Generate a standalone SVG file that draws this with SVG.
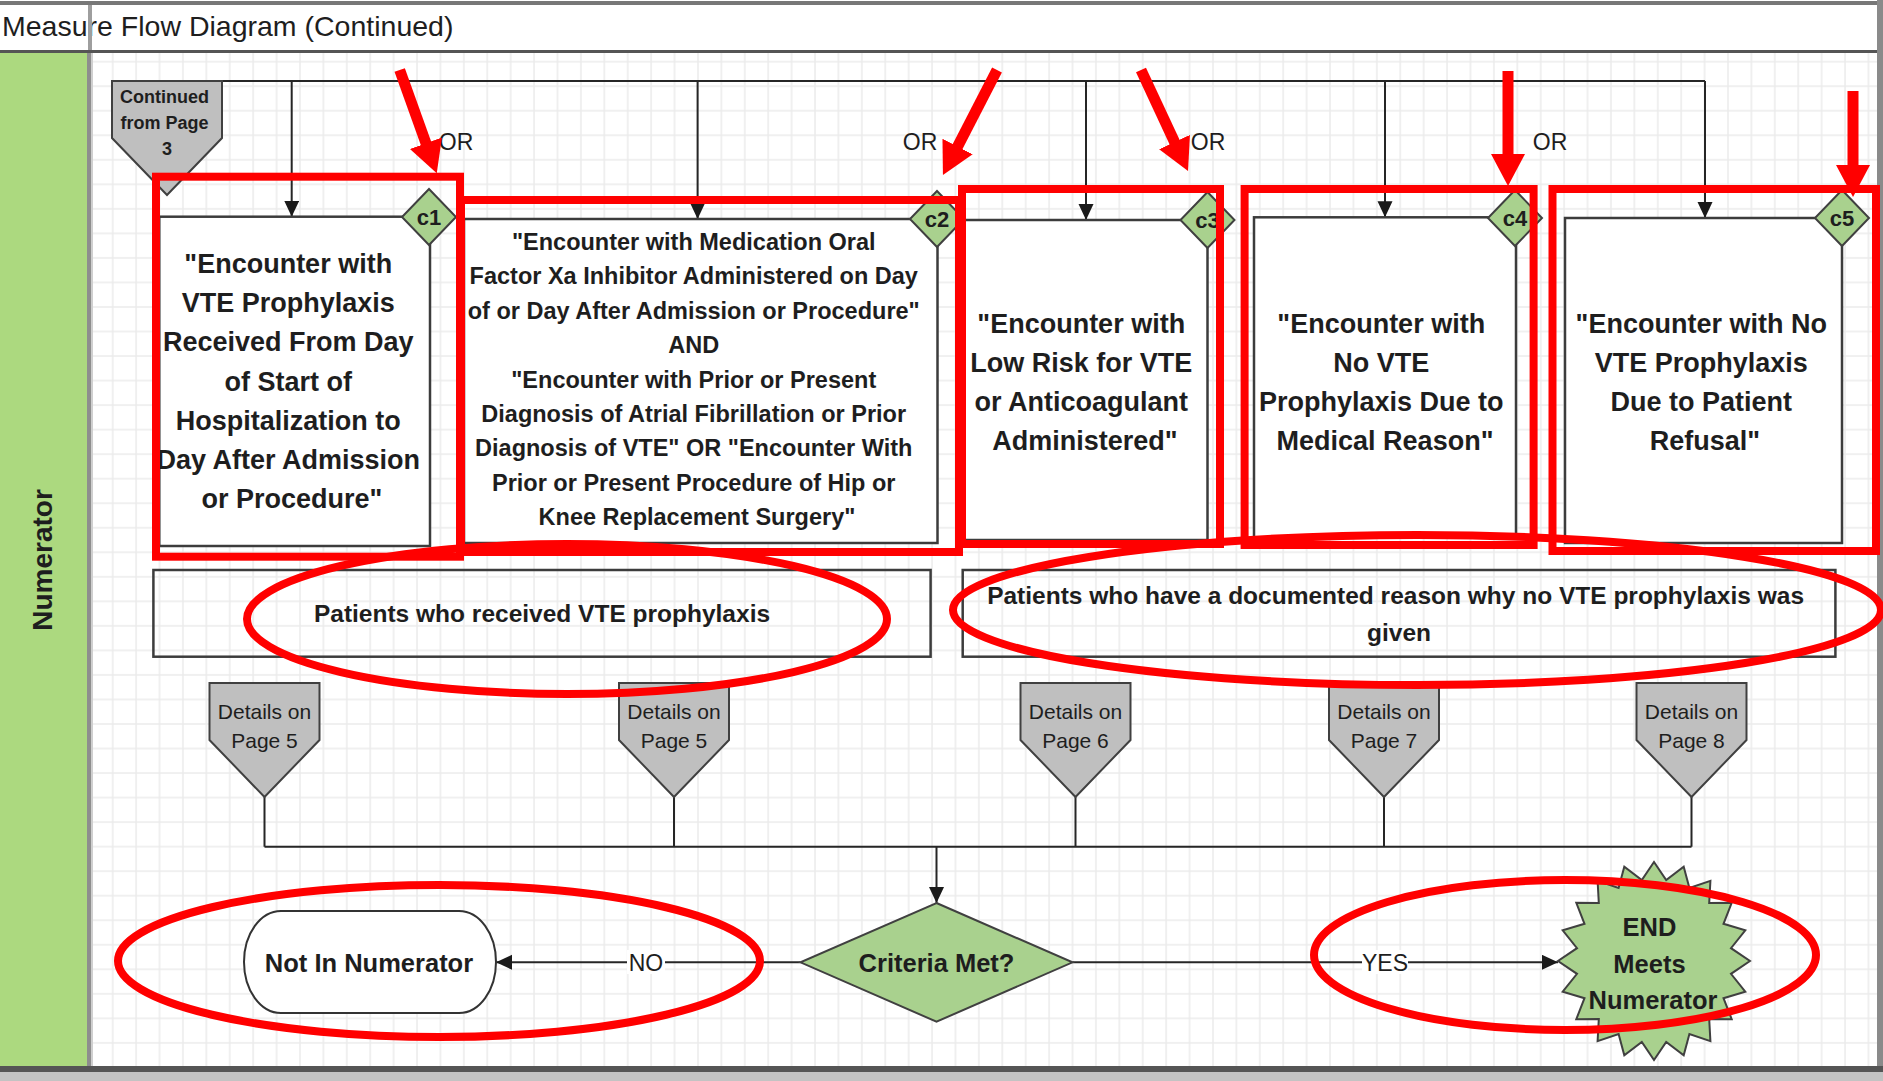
<svg xmlns="http://www.w3.org/2000/svg" width="1883" height="1081" viewBox="0 0 1883 1081">
  <style>
    .t { font-family: "Liberation Sans", Arial, sans-serif; fill: #1e1e1e; }
    .b { font-weight: bold; }
    .box { fill: #ffffff; stroke: #3c3c3c; stroke-width: 2.5; }
    .sum { fill: none; stroke: #3c3c3c; stroke-width: 2.5; }
    .tag { fill: #a9d18e; stroke: #404040; stroke-width: 2; }
    .off { fill: #bfbfbf; stroke: #404040; stroke-width: 2; }
    .wire { fill: none; stroke: #262626; stroke-width: 2; }
    .mark { fill: none; stroke: #ff0000; stroke-width: 8; }
    .markarrow { fill: none; stroke: #ff0000; stroke-width: 11; }
  </style>
  <defs>
    <pattern id="grid" patternUnits="userSpaceOnUse" x="88.3" y="11.64" width="23.41" height="24.53">
      <path d="M1,0 V24.53 M0,1 H23.41" stroke="#ebebeb" stroke-width="1.5" fill="none"/>
    </pattern>
    <marker id="arr" markerUnits="userSpaceOnUse" markerWidth="17" markerHeight="16" refX="16" refY="7.5" orient="auto">
      <path d="M0,0 L16,7.5 L0,15 Z" fill="#1a1a1a"/>
    </marker>
    <marker id="redarr" markerUnits="userSpaceOnUse" markerWidth="34" markerHeight="36" refX="12" refY="18" orient="auto">
      <path d="M0,1 L32,18 L0,35 Z" fill="#ff0000"/>
    </marker>
  </defs>

  <!-- page frame -->
  <rect x="0" y="0" width="1883" height="1081" fill="#ffffff"/>
  <rect x="89" y="53" width="1789" height="1013" fill="#ffffff"/>
  <rect x="89" y="53" width="1789" height="1013" fill="url(#grid)"/>

  <!-- swimlane header -->
  <g id="lane-numerator">
    <rect x="0" y="53" width="87" height="1013" fill="#acd97f"/>
    <rect x="87" y="53" width="4" height="1013" fill="#8e8e8e"/>
    <rect x="91" y="53" width="2" height="1013" fill="#cfcfcf"/>
    <text class="t b" font-size="28" text-anchor="middle" transform="translate(52,560) rotate(-90)">Numerator</text>
  </g>

  <!-- title row -->
  <g id="title">
    <rect x="0" y="3" width="1878" height="48" fill="#ffffff"/>
    <text class="t" font-size="28.5" x="2" y="36">Measure Flow Diagram (Continued)</text>
    <rect x="88" y="3" width="4" height="50" fill="#9e9e9e"/>
    <rect x="0" y="1" width="1883" height="4" fill="#777777"/>
    <rect x="0" y="50" width="1878" height="3" fill="#555555"/>
  </g>

  <!-- outer border -->
  <rect x="1877" y="0" width="6" height="1081" fill="#8a8a8a"/>
  <rect x="0" y="1066" width="1883" height="6" fill="#555555"/>
  <rect x="0" y="1072" width="1883" height="9" fill="#c3c3c3"/>

  <!-- connectors -->
  <g id="connectors">
    <path class="wire" d="M222,81 H1705"/>
    <path class="wire" d="M291.7,81 V216.7" marker-end="url(#arr)"/>
    <path class="wire" d="M697.6,81 V219" marker-end="url(#arr)"/>
    <path class="wire" d="M1086,81 V220" marker-end="url(#arr)"/>
    <path class="wire" d="M1385,81 V217.3" marker-end="url(#arr)"/>
    <path class="wire" d="M1705,81 V218" marker-end="url(#arr)"/>

    <path class="wire" d="M264.5,797 V846.7 M674,797 V846.7 M1075.5,797 V846.7 M1384,797 V846.7 M1691.5,797 V846.7 M264.5,846.7 H1691.5"/>
    <path class="wire" d="M936.5,846.7 V903" marker-end="url(#arr)"/>

    <path class="wire" d="M800.5,962.3 H496" marker-end="url(#arr)"/>
    <rect x="627" y="950" width="38" height="24" fill="#ffffff"/>
    <text class="t" font-size="23" text-anchor="middle" x="646" y="970.5">NO</text>

    <path class="wire" d="M1072.5,962.3 H1558" marker-end="url(#arr)"/>
    <rect x="1362" y="950" width="46" height="24" fill="#ffffff"/>
    <text class="t" font-size="23" text-anchor="middle" x="1385" y="970.5">YES</text>

    <text class="t" font-size="23" text-anchor="middle" x="456" y="150">OR</text>
    <text class="t" font-size="23" text-anchor="middle" x="920" y="150">OR</text>
    <text class="t" font-size="23" text-anchor="middle" x="1208" y="150">OR</text>
    <text class="t" font-size="23" text-anchor="middle" x="1550" y="150">OR</text>
  </g>

  <!-- off-page connector in -->
  <g id="continued-from-page-3">
    <path class="off" d="M112,81 H222 V138 L167,195 L112,138 Z"/>
    <text class="t b" font-size="18" text-anchor="middle" fill="#333333">
      <tspan x="167" y="103">Continued</tspan>
      <tspan x="167" dy="26">from Page</tspan>
      <tspan x="167" dy="26">3</tspan>
    </text>
  </g>

  <!-- criteria boxes -->
  <g id="c1-box">
    <rect class="box" x="159.3" y="216.7" width="270.7" height="329.3"/>
    <text class="t b" font-size="27" text-anchor="middle">
      <tspan x="292" y="273">"Encounter with</tspan>
      <tspan x="292" dy="39.2">VTE Prophylaxis</tspan>
      <tspan x="292" dy="39.2">Received From Day</tspan>
      <tspan x="292" dy="39.2">of Start of</tspan>
      <tspan x="292" dy="39.2">Hospitalization to</tspan>
      <tspan x="292" dy="39.2">Day After Admission</tspan>
      <tspan x="292" dy="39.2">or Procedure"</tspan>
    </text>
    <path class="tag" d="M429,189 L456,217 L429,245 L402,217 Z"/>
    <text class="t b" font-size="22" text-anchor="middle" x="429" y="225">c1</text>
  </g>

  <g id="c2-box">
    <rect class="box" x="464" y="219" width="473.5" height="324"/>
    <text class="t b" font-size="23.5" text-anchor="middle">
      <tspan x="697" y="250">"Encounter with Medication Oral</tspan>
      <tspan x="697" dy="34.4">Factor Xa Inhibitor Administered on Day</tspan>
      <tspan x="697" dy="34.4">of or Day After Admission or Procedure"</tspan>
      <tspan x="697" dy="34.4">AND</tspan>
      <tspan x="697" dy="34.4">"Encounter with Prior or Present</tspan>
      <tspan x="697" dy="34.4">Diagnosis of Atrial Fibrillation or Prior</tspan>
      <tspan x="697" dy="34.4">Diagnosis of VTE" OR "Encounter With</tspan>
      <tspan x="697" dy="34.4">Prior or Present Procedure of Hip or</tspan>
      <tspan x="697" dy="34.4">Knee Replacement Surgery"</tspan>
    </text>
    <path class="tag" d="M937,191 L964,219 L937,247 L910,219 Z"/>
    <text class="t b" font-size="22" text-anchor="middle" x="937" y="227">c2</text>
  </g>

  <g id="c3-box">
    <rect class="box" x="964" y="220" width="243.5" height="320"/>
    <text class="t b" font-size="27" text-anchor="middle">
      <tspan x="1085" y="332.5">"Encounter with</tspan>
      <tspan x="1085" dy="39">Low Risk for VTE</tspan>
      <tspan x="1085" dy="39">or Anticoagulant</tspan>
      <tspan x="1085" dy="39">Administered"</tspan>
    </text>
    <path class="tag" d="M1207.5,192 L1234.5,220 L1207.5,248 L1180.5,220 Z"/>
    <text class="t b" font-size="22" text-anchor="middle" x="1207.5" y="228">c3</text>
  </g>

  <g id="c4-box">
    <rect class="box" x="1254" y="217.3" width="262" height="320"/>
    <text class="t b" font-size="27" text-anchor="middle">
      <tspan x="1385" y="332.5">"Encounter with</tspan>
      <tspan x="1385" dy="39">No VTE</tspan>
      <tspan x="1385" dy="39">Prophylaxis Due to</tspan>
      <tspan x="1385" dy="39">Medical Reason"</tspan>
    </text>
    <path class="tag" d="M1515,190 L1542,218 L1515,246 L1488,218 Z"/>
    <text class="t b" font-size="22" text-anchor="middle" x="1515" y="226">c4</text>
  </g>

  <g id="c5-box">
    <rect class="box" x="1565" y="218" width="277" height="325"/>
    <text class="t b" font-size="27" text-anchor="middle">
      <tspan x="1705" y="332.5">"Encounter with No</tspan>
      <tspan x="1705" dy="39">VTE Prophylaxis</tspan>
      <tspan x="1705" dy="39">Due to Patient</tspan>
      <tspan x="1705" dy="39">Refusal"</tspan>
    </text>
    <path class="tag" d="M1842,190 L1869,218 L1842,246 L1815,218 Z"/>
    <text class="t b" font-size="22" text-anchor="middle" x="1842" y="226">c5</text>
  </g>

  <!-- group summaries -->
  <g id="summary-received">
    <rect class="sum" x="153.4" y="570" width="777.2" height="86.7"/>
    <text class="t b" font-size="24.5" text-anchor="middle" x="542" y="622">Patients who received VTE prophylaxis</text>
  </g>
  <g id="summary-reason">
    <rect class="sum" x="962.7" y="570" width="872.7" height="86.7"/>
    <text class="t b" font-size="24.5" text-anchor="middle">
      <tspan x="1399" y="604">Patients who have a documented reason why no VTE prophylaxis was</tspan>
      <tspan x="1399" dy="36.7">given</tspan>
    </text>
  </g>

  <!-- off-page references -->
  <g id="details-page5-a">
    <path class="off" d="M209.5,683 H319.5 V740 L264.5,797 L209.5,740 Z"/>
    <text class="t" font-size="21" text-anchor="middle" fill="#3a3a3a"><tspan x="264.5" y="719">Details on</tspan><tspan x="264.5" dy="28.5">Page 5</tspan></text>
  </g>
  <g id="details-page5-b">
    <path class="off" d="M619,683 H729 V740 L674,797 L619,740 Z"/>
    <text class="t" font-size="21" text-anchor="middle" fill="#3a3a3a"><tspan x="674" y="719">Details on</tspan><tspan x="674" dy="28.5">Page 5</tspan></text>
  </g>
  <g id="details-page6">
    <path class="off" d="M1020.5,683 H1130.5 V740 L1075.5,797 L1020.5,740 Z"/>
    <text class="t" font-size="21" text-anchor="middle" fill="#3a3a3a"><tspan x="1075.5" y="719">Details on</tspan><tspan x="1075.5" dy="28.5">Page 6</tspan></text>
  </g>
  <g id="details-page7">
    <path class="off" d="M1329,683 H1439 V740 L1384,797 L1329,740 Z"/>
    <text class="t" font-size="21" text-anchor="middle" fill="#3a3a3a"><tspan x="1384" y="719">Details on</tspan><tspan x="1384" dy="28.5">Page 7</tspan></text>
  </g>
  <g id="details-page8">
    <path class="off" d="M1636.5,683 H1746.5 V740 L1691.5,797 L1636.5,740 Z"/>
    <text class="t" font-size="21" text-anchor="middle" fill="#3a3a3a"><tspan x="1691.5" y="719">Details on</tspan><tspan x="1691.5" dy="28.5">Page 8</tspan></text>
  </g>

  <!-- decision -->
  <g id="criteria-met">
    <path d="M936.5,903 L1072.5,962.3 L936.5,1021.7 L800.5,962.3 Z" fill="#a9d18e" stroke="#404040" stroke-width="2"/>
    <text class="t b" font-size="25.5" text-anchor="middle" x="936.5" y="971.5">Criteria Met?</text>
  </g>

  <g id="not-in-numerator">
    <path d="M281,911 H459 A37,51 0 0 1 459,1013 H281 A37,51 0 0 1 281,911 Z" fill="#ffffff" stroke="#333333" stroke-width="2"/>
    <text class="t b" font-size="25.5" text-anchor="middle" x="369" y="971.5">Not In Numerator</text>
  </g>

  <g id="end-meets-numerator">
    <path d="M1750,961 L1731,973.8 L1745.3,991.6 L1723.5,998.2 L1731.7,1019.2 L1709.2,1019 L1710.4,1041.1 L1689.4,1034.1 L1683.7,1055.2 L1666.2,1042 L1654,1060 L1641.8,1042 L1624.3,1055.2 L1618.6,1034.1 L1597.6,1041.1 L1598.8,1019 L1576.3,1019.2 L1584.5,998.2 L1562.7,991.6 L1577,973.8 L1558,961 L1577,948.2 L1562.7,930.4 L1584.5,923.8 L1576.3,902.8 L1598.8,903 L1597.6,880.9 L1618.6,887.9 L1624.3,866.8 L1641.8,880 L1654,862 L1666.2,880 L1683.7,866.8 L1689.4,887.9 L1710.4,880.9 L1709.2,903 L1731.7,902.8 L1723.5,923.8 L1745.3,930.4 L1731,948.2 Z" fill="#a9d18e" stroke="#404040" stroke-width="2"/>
    <text class="t b" font-size="25.5" text-anchor="middle">
      <tspan x="1653" y="936">END</tspan>
      <tspan x="1653" dy="36.7">Meets</tspan>
      <tspan x="1653" dy="36.7">Numerator</tspan>
    </text>
  </g>

  <!-- red highlight marks -->
  <g id="highlights">
    <rect class="mark" x="156" y="176.7" width="304" height="380"/>
    <rect class="mark" x="461" y="200" width="498" height="352"/>
    <rect class="mark" x="962" y="189" width="258" height="355"/>
    <rect class="mark" x="1244.6" y="189" width="289" height="356"/>
    <rect class="mark" x="1552.5" y="189" width="323.5" height="362"/>

    <path class="markarrow" d="M399.7,70 L430,154.5" marker-end="url(#redarr)"/>
    <path class="markarrow" d="M997,70 L952.1,157.2" marker-end="url(#redarr)"/>
    <path class="markarrow" d="M1141,70 L1179.6,152.9" marker-end="url(#redarr)"/>
    <path class="markarrow" d="M1508,71 L1508,166" marker-end="url(#redarr)"/>
    <path class="markarrow" d="M1853,91 L1853,177" marker-end="url(#redarr)"/>

    <ellipse class="mark" cx="567" cy="619" rx="320" ry="75"/>
    <ellipse class="mark" cx="1417" cy="610" rx="464" ry="75"/>
    <ellipse class="mark" cx="439" cy="961" rx="321" ry="76"/>
    <ellipse class="mark" cx="1565" cy="955" rx="251" ry="75"/>
  </g>
</svg>
